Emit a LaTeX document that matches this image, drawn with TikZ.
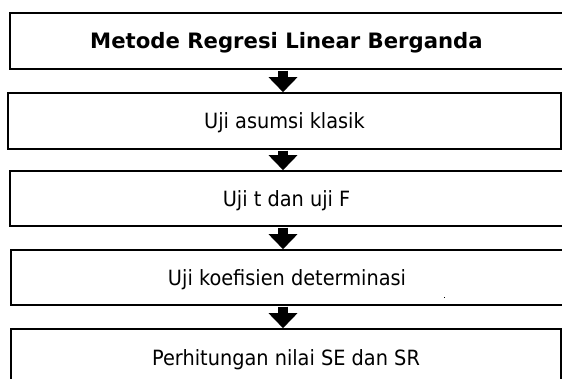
\documentclass[tikz,border=0pt]{standalone}
\usepackage{fontspec}
\setmainfont{DejaVu Sans}
\newfontfamily\narrowsans[FakeStretch=0.92]{DejaVu Sans}
\usetikzlibrary{arrows.meta,calc}
\tikzset{
  stepbox/.style={draw=black, line width=1.6pt, fill=white, inner sep=0pt,
    text height=16pt, text depth=0pt, font=\narrowsans\fontsize{21}{25}\selectfont},
  flowarrow/.style={line width=10pt, -{Triangle[width=28pt,length=15pt]}}
}
\begin{document}
\begin{tikzpicture}[x=1pt,y=-1pt]
\useasboundingbox (0,0) rectangle (562,379);
\node[stepbox, minimum width=553pt, minimum height=56pt, font=\fontsize{21.2}{25}\selectfont\bfseries] (b1) at (286.5,41) {Metode Regresi Linear Berganda};
\node[stepbox, minimum width=553pt, minimum height=56pt] (b2) at (284.5,121) {Uji asumsi klasik};
\node[stepbox, minimum width=553pt, minimum height=55pt] (b3) at (286.5,198.5) {Uji t dan uji F};
\node[stepbox, minimum width=552pt, minimum height=55pt] (b4) at (287,277.5) {Uji koefisien determinasi};
\node[stepbox, minimum width=550pt, minimum height=56pt] (b5) at (286,357) {Perhitungan nilai SE dan SR};
\fill (444,296.5) rectangle (445,297.5);
\draw[flowarrow] ($(b1.south)+(-3.5,0.8)$) -- ($(b2.north)+(-1.5,0)$);
\draw[flowarrow] ($(b2.south -| b1.south)+(-3.5,0.8)$) -- ($(b3.north)+(-3.5,0)$);
\draw[flowarrow] ($(b3.south)+(-3.5,0.8)$) -- ($(b4.north)+(-4,0)$);
\draw[flowarrow] ($(b4.south)+(-4,0.8)$) -- ($(b5.north)+(-3,0)$);
\end{tikzpicture}
\end{document}
